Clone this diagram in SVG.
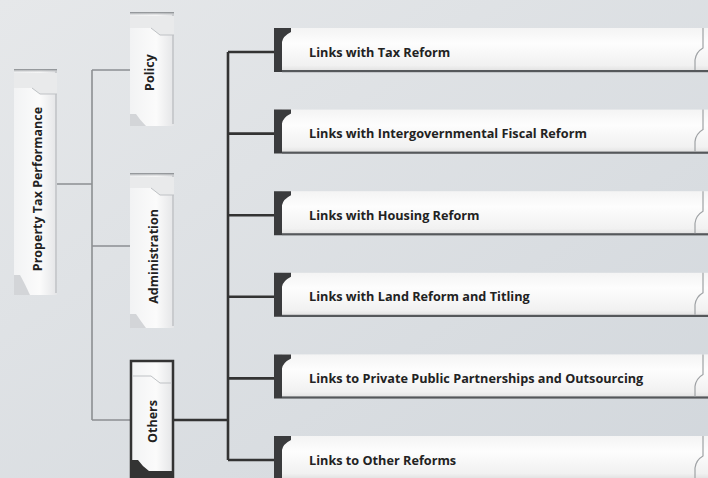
<svg xmlns="http://www.w3.org/2000/svg" width="708" height="478" viewBox="0 0 708 478">
<defs>
<linearGradient id="bg" x1="0" y1="0" x2="1" y2="1">
<stop offset="0" stop-color="#e6e8ea"/>
<stop offset="1" stop-color="#d2d7dc"/>
</linearGradient>
<linearGradient id="vfill" x1="0" y1="0" x2="1" y2="0">
<stop offset="0" stop-color="#f2f3f4"/>
<stop offset="0.6" stop-color="#fbfbfb"/>
<stop offset="1" stop-color="#e4e5e7"/>
</linearGradient>
<linearGradient id="hfill" x1="0" y1="0" x2="0" y2="1">
<stop offset="0" stop-color="#f4f4f4"/>
<stop offset="0.35" stop-color="#fdfdfd"/>
<stop offset="0.85" stop-color="#f1f1f1"/>
<stop offset="1" stop-color="#dedede"/>
</linearGradient>
<linearGradient id="topsh" x1="0" y1="0" x2="0" y2="1">
<stop offset="0" stop-color="#7d8185"/>
<stop offset="1" stop-color="#d6d8da" stop-opacity="0"/>
</linearGradient>
</defs>
<style>
.lbl{font-family:"Open Sans","Liberation Sans",sans-serif;font-weight:700;fill:#222}
.vl{font-size:12.5px;text-anchor:middle}
.hl{font-size:12.7px}
.thin{stroke:#8c8f92;stroke-width:1.6;fill:none}
.thick{stroke:#333;stroke-width:2.6;fill:none}
.fold{stroke:#bfc2c5;stroke-width:1;fill:none}
.vbox{fill:url(#vfill)}
.hbox{fill:url(#hfill)}
.tab{fill:#3a3b3d}
.bot{fill:#55585b}
.rf{stroke:#9fa2a5;stroke-width:1.2;fill:none}
</style>
<rect width="708" height="478" fill="url(#bg)"/>

<g id="connectors">
<path class="thin" d="M57,184 H92 M92,70 V420 M92,70 H130 M92,246 H130 M92,420 H130"/>
<path class="thick" d="M174,420 H228 M228,52 V460 M228,52 H275 M228,133.6 H275 M228,215.2 H275 M228,296.8 H275 M228,378.4 H275 M228,460 H275"/>
</g>

<g id="root">
<rect x="14" y="69" width="43" height="226" class="vbox"/>
<rect x="14" y="69" width="43" height="4" fill="url(#topsh)"/>
<rect x="55" y="71" width="2" height="222" fill="#c9cbce"/>
<path d="M14,88 H32 L40,94 H57 V73 H14Z" fill="#e9eaeb"/>
<path class="fold" d="M32,88 L40,94 H57"/>
<path d="M14,275 H20 Q24,282 30,295 H14Z" fill="#d3d5d8"/>
<text class="lbl vl" transform="translate(41.5,189) rotate(-90)">Property Tax Performance</text>
</g>

<g id="policy">
<rect x="130" y="12" width="44" height="114" class="vbox"/>
<rect x="130" y="12" width="44" height="4" fill="url(#topsh)"/>
<rect x="172" y="14" width="2" height="110" fill="#c9cbce"/>
<path d="M130,28 H151 L160,35 H174 V16 H130Z" fill="#e9eaeb"/>
<path class="fold" d="M151,28 L160,35 H174"/>
<path d="M130,114 H136 Q140,120 146,126 H130Z" fill="#d3d5d8"/>
<text class="lbl vl" transform="translate(153.5,72.5) rotate(-90)">Policy</text>
</g>

<g id="administration">
<rect x="130" y="173" width="44" height="155" class="vbox"/>
<rect x="130" y="173" width="44" height="4" fill="url(#topsh)"/>
<rect x="172" y="175" width="2" height="151" fill="#c9cbce"/>
<path d="M130,188 H151 L160,195 H174 V177 H130Z" fill="#e9eaeb"/>
<path class="fold" d="M151,188 L160,195 H174"/>
<path d="M130,314 H136 Q140,320 146,328 H130Z" fill="#d3d5d8"/>
<text class="lbl vl" transform="translate(157.5,256.5) rotate(-90)">Administration</text>
</g>

<g id="others">
<rect x="131" y="361" width="42" height="120" class="vbox" stroke="#333" stroke-width="2.5"/>
<path d="M132,376 H151 L160,383 H172" class="fold"/>
<path d="M130,460 H138 Q142,466 149,471 H174 V480 H130Z" fill="#333"/>
<text class="lbl vl" transform="translate(156.5,421.5) rotate(-90)">Others</text>
</g>

<g id="link1">
<rect x="282" y="28" width="430" height="44" class="hbox"/>
<rect x="282" y="70" width="430" height="2.2" class="bot"/>
<path class="tab" d="M274,28 H291 V32 Q283,36 282,42 V72 H274Z"/>
<path class="rf" d="M695,70 V60 Q696,52 703,48 V28"/>
<text class="lbl hl" x="309" y="56.5">Links with Tax Reform</text>
</g>

<g id="link2">
<rect x="282" y="109.6" width="430" height="44" class="hbox"/>
<rect x="282" y="151.6" width="430" height="2.2" class="bot"/>
<path class="tab" d="M274,109.6 H291 V113.6 Q283,117.6 282,123.6 V153.6 H274Z"/>
<path class="rf" d="M695,151.6 V141.6 Q696,133.6 703,129.6 V109.6"/>
<text class="lbl hl" x="309" y="138.1">Links with Intergovernmental Fiscal Reform</text>
</g>

<g id="link3">
<rect x="282" y="191.2" width="430" height="44" class="hbox"/>
<rect x="282" y="233.2" width="430" height="2.2" class="bot"/>
<path class="tab" d="M274,191.2 H291 V195.2 Q283,199.2 282,205.2 V235.2 H274Z"/>
<path class="rf" d="M695,233.2 V223.2 Q696,215.2 703,211.2 V191.2"/>
<text class="lbl hl" x="309" y="219.7">Links with Housing Reform</text>
</g>

<g id="link4">
<rect x="282" y="272.8" width="430" height="44" class="hbox"/>
<rect x="282" y="314.8" width="430" height="2.2" class="bot"/>
<path class="tab" d="M274,272.8 H291 V276.8 Q283,280.8 282,286.8 V316.8 H274Z"/>
<path class="rf" d="M695,314.8 V304.8 Q696,296.8 703,292.8 V272.8"/>
<text class="lbl hl" x="309" y="301.3">Links with Land Reform and Titling</text>
</g>

<g id="link5">
<rect x="282" y="354.4" width="430" height="44" class="hbox"/>
<rect x="282" y="396.4" width="430" height="2.2" class="bot"/>
<path class="tab" d="M274,354.4 H291 V358.4 Q283,362.4 282,368.4 V398.4 H274Z"/>
<path class="rf" d="M695,396.4 V386.4 Q696,378.4 703,374.4 V354.4"/>
<text class="lbl hl" x="309" y="382.9">Links to Private Public Partnerships and Outsourcing</text>
</g>

<g id="link6">
<rect x="282" y="436" width="430" height="44" class="hbox"/>
<path class="tab" d="M274,436 H291 V440 Q283,444 282,450 V480 H274Z"/>
<path class="rf" d="M695,478 V468 Q696,460 703,456 V436"/>
<text class="lbl hl" x="309" y="464.5">Links to Other Reforms</text>
</g>
</svg>
